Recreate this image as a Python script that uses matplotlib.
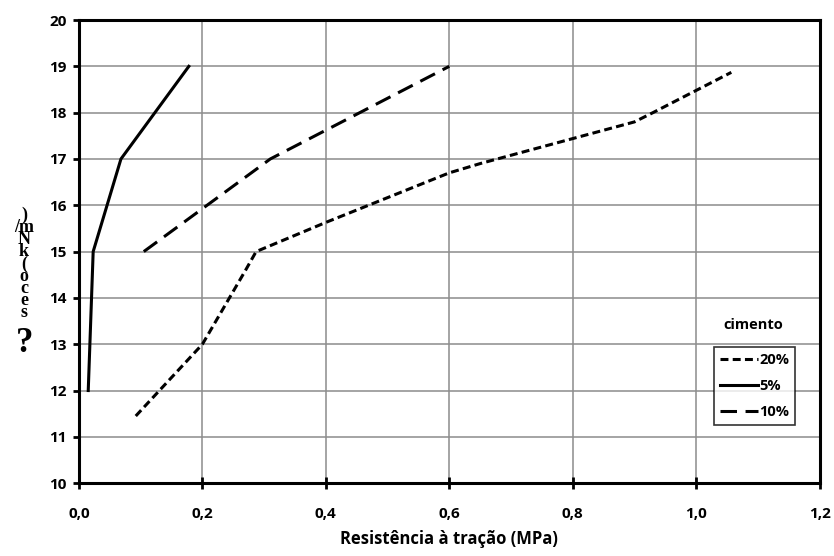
import matplotlib
matplotlib.use("Agg")
import matplotlib.pyplot as plt

plt.rcParams["font.family"] = ["Open Sans", "DejaVu Sans"]
plt.rcParams["font.weight"] = "bold"

#
# data
#
x_20 = [0.092, 0.20, 0.27, 0.287, 0.40, 0.60, 0.65, 0.90, 0.93, 1.057]
y_20 = [11.45, 13.0, 14.6, 15.0, 15.63, 16.7, 16.9, 17.8, 18.0, 18.87]

x_5 = [0.015, 0.023, 0.068, 0.178]
y_5 = [12.0, 15.0, 17.0, 19.0]

x_10 = [0.105, 0.31, 0.60]
y_10 = [15.0, 17.0, 19.0]

x_ticks = [0.0, 0.2, 0.4, 0.6, 0.8, 1.0, 1.2]
x_tick_labels = ["0,0", "0,2", "0,4", "0,6", "0,8", "1,0", "1,2"]
y_ticks = list(range(10, 21))

# garbled y label as in the original (glyphs stacked bottom to top)
ylabel_chars = [")", "/m", "N", "k", "(", "o", "c", "e", "s"]

fig = plt.figure(figsize=(8.34, 5.56), dpi=100)
ax = fig.add_axes([0.0947, 0.131, 0.888, 0.833])

lw = 2.2
ax.plot(x_20, y_20, color="black", lw=lw, linestyle=(0, (2.6, 1.4)), label="20%")
ax.plot(x_5, y_5, color="black", lw=lw, linestyle="-", label="5%")
ax.plot(x_10, y_10, color="black", lw=lw, linestyle=(0, (5.4, 2.8)), label="10%")

ax.set_xlim(0, 1.2)
ax.set_ylim(10, 20)
ax.set_xticks(x_ticks)
ax.set_xticklabels(x_tick_labels)
ax.set_yticks(y_ticks)

ax.grid(True, color="#8c8c8c", lw=1.1)
ax.set_axisbelow(True)
for s in ax.spines.values():
    s.set_linewidth(2.2)
ax.tick_params(axis="x", direction="inout", length=8, width=2, labelsize=11, pad=13)
ax.tick_params(axis="y", direction="out", length=4, width=2, labelsize=11, pad=5)
for t in ax.get_xticklabels() + ax.get_yticklabels():
    t.set_fontweight("bold")

ax.set_xlabel("Resistência à tração (MPa)", fontsize=12, fontweight="bold", labelpad=7)

leg = ax.legend(loc="lower right", bbox_to_anchor=(0.967, 0.125),
                prop={"size": 10.5, "weight": "bold"},
                frameon=True, fancybox=False, handlelength=2.6, handletextpad=0.1,
                borderpad=0.4, labelspacing=0.85, borderaxespad=0)
leg.get_frame().set_edgecolor("black")
leg.get_frame().set_linewidth(1.2)
ax.text(0.911, 0.341, "cimento", transform=ax.transAxes, ha="center", va="center",
        fontsize=10.5, fontweight="bold")

# stacked y label
fig.text(24 / 834, 1 - 264 / 556, "\n".join(ylabel_chars), ha="center", va="center",
         family="Liberation Serif", fontweight="bold", fontsize=13, linespacing=0.62)
fig.text(25 / 834, 1 - 344 / 556, "?", ha="center", va="center",
         family="Liberation Serif", fontweight="bold", fontsize=25)

fig.savefig("out.png", dpi=100)
